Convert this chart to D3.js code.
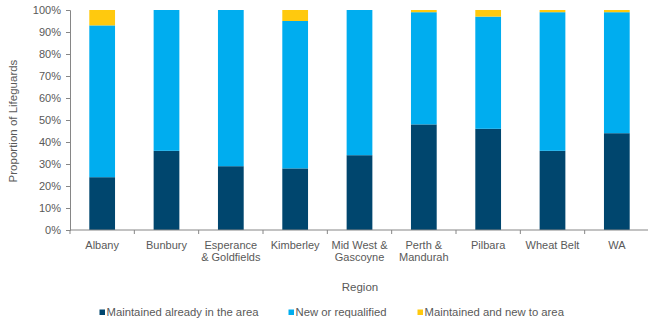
<!DOCTYPE html>
<html>
<head>
<meta charset="utf-8">
<script src="https://cdn.jsdelivr.net/npm/d3@7"></script>
<style>
  html, body { margin: 0; padding: 0; background: #fff; }
  svg { display: block; font-family: "Liberation Sans", Arial, sans-serif; }
</style>
</head>
<body>
<svg id="chart" width="648" height="324"></svg>
<script>
// Regions (two-line labels split on "\n")
const regions = ["Albany", "Bunbury", "Esperance\n& Goldfields", "Kimberley", "Mid West &\nGascoyne",
                 "Perth &\nMandurah", "Pilbara", "Wheat Belt", "WA"];
// Share of lifeguards (%) by origin
const maintainedInArea = [24, 36, 29, 28, 34, 48, 46, 36, 44];
const newOrRequalified = [69, 64, 71, 67, 66, 51, 51, 63, 55];
const maintainedAndNew = [7, 0, 0, 5, 0, 1, 3, 1, 1];
const seriesNames = ["Maintained already in the area", "New or requalified", "Maintained and new to area"];
const seriesColors = ["#00466e", "#00adef", "#ffc90e"];
const yTicks = [0, 10, 20, 30, 40, 50, 60, 70, 80, 90, 100];

const rows = regions.map((r, i) => ({
  region: r,
  s0: maintainedInArea[i],
  s1: newOrRequalified[i],
  s2: maintainedAndNew[i]
}));

const svg = d3.select("#chart");
const plotLeft = 70, plotRight = 649, plotTop = 10, plotBottom = 230;
const textColor = "#595959", axisColor = "#868686";

function label(parent, tx, ty, str, anchor) {
  return parent.append("text")
    .attr("x", tx).attr("y", ty)
    .attr("text-anchor", anchor)
    .attr("fill", textColor)
    .style("font-size", "11px")
    .text(str);
}

const x = d3.scaleBand().domain(regions).range([plotLeft, plotRight]).paddingInner(0.6).paddingOuter(0.3);
const y = d3.scaleLinear().domain([0, 100]).range([plotBottom, plotTop]);

const stack = d3.stack().keys(["s0", "s1", "s2"]);
const layers = stack(rows);

svg.append("g").selectAll("g")
  .data(layers)
  .join("g")
  .attr("fill", (d, i) => seriesColors[i])
  .selectAll("rect")
  .data(d => d)
  .join("rect")
  .attr("x", d => x(d.data.region))
  .attr("width", x.bandwidth())
  .attr("y", d => y(d[1]))
  .attr("height", d => y(d[0]) - y(d[1]));

// Y axis
const yAxis = svg.append("g")
  .attr("transform", `translate(${plotLeft},0)`)
  .call(d3.axisLeft(y).tickValues(yTicks).tickFormat(d => d + "%").tickSizeOuter(0).tickSize(4).tickPadding(5));
yAxis.select(".domain").attr("stroke", axisColor);
yAxis.selectAll(".tick line").attr("stroke", axisColor);
yAxis.selectAll(".tick text").attr("fill", textColor).style("font-size", "11px");

// X axis with ticks on category boundaries
const xAxisG = svg.append("g").attr("transform", `translate(0,${plotBottom})`);
xAxisG.append("line").attr("x1", plotLeft).attr("x2", 648).attr("y1", 0).attr("y2", 0).attr("stroke", axisColor);
const boundaries = d3.range(regions.length + 1).map(i => plotLeft + i * (plotRight - plotLeft) / regions.length);
xAxisG.selectAll("line.tk").data(boundaries).join("line")
  .attr("class", "tk")
  .attr("x1", d => d).attr("x2", d => d)
  .attr("y1", 0).attr("y2", 4)
  .attr("stroke", axisColor);

regions.forEach(r => {
  const cx = x(r) + x.bandwidth() / 2;
  r.split("\n").forEach((line, i) => label(xAxisG, cx, 19 + i * 12, line, "middle"));
});

// Axis titles
label(svg, 360, 291, "Region", "middle").style("font-size", "11.5px");

svg.append("text")
  .attr("transform", `translate(17,${(plotTop + plotBottom) / 2 + 1}) rotate(-90)`)
  .attr("text-anchor", "middle")
  .attr("fill", textColor)
  .style("font-size", "11.5px")
  .text("Proportion of Lifeguards");

// Legend
const legendX = [99.5, 288.5, 417.5];
const legend = svg.append("g");
seriesNames.forEach((name, i) => {
  legend.append("rect")
    .attr("x", legendX[i]).attr("y", 309.5).attr("width", 5.5).attr("height", 5.5)
    .attr("fill", seriesColors[i]);
  label(legend, legendX[i] + 7, 316, name, "start").style("font-size", "11.3px");
});
</script>
</body>
</html>
